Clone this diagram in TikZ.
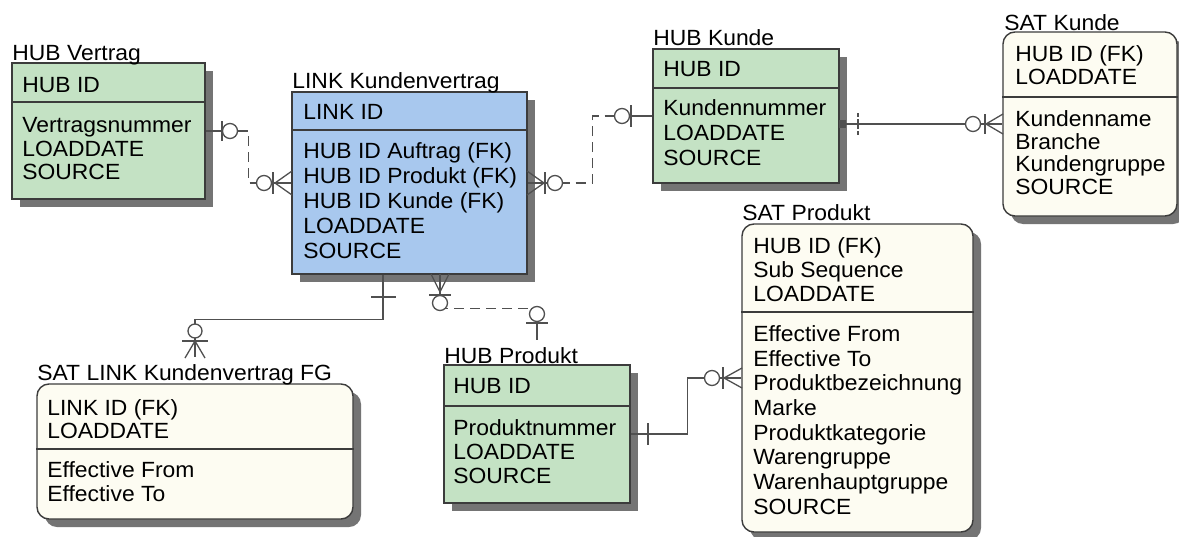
\documentclass[tikz,border=0pt]{standalone}
\usepackage{fontspec}
\setmainfont{Liberation Sans}[FakeStretch=1.04]
\usetikzlibrary{fit,shadows,calc}
\definecolor{hubgreen}{HTML}{C4E2C4}
\definecolor{linkblue}{HTML}{A8C8EE}
\definecolor{satcream}{HTML}{FDFCF2}
\definecolor{shgray}{HTML}{747474}
\definecolor{edgec}{HTML}{3C3C3C}
\definecolor{connc}{HTML}{505050}
\newcommand\efont[1]{\fontsize{11}{#1}\selectfont}
\tikzset{
  ent/.style={fit={#1}, inner sep=0pt, draw=edgec, line width=0.7pt,
    drop shadow={shadow xshift=4pt, shadow yshift=-4pt, opacity=1, fill=shgray}},
  hub/.style={ent={#1}, fill=hubgreen},
  lnk/.style={ent={#1}, fill=linkblue},
  sat/.style={ent={#1}, fill=satcream, rounded corners=6pt},
  divider/.style={draw=edgec, line width=0.7pt},
  ttl/.style={anchor=base west, inner sep=0pt, font=\efont{12}},
  txt/.style={anchor=north west, inner sep=0pt, align=left, font=\efont{#1}},
  conn/.style={draw=connc, line width=0.6pt},
  dsh/.style={dash pattern=on 5pt off 3pt},
  sym/.style={draw=connc, line width=0.65pt},
  ring/.style={draw=connc, line width=0.65pt, fill=white},
}
\begin{document}
\begin{tikzpicture}[x=0.5pt, y=-0.5pt]
\useasboundingbox[fill=white] (0,0) rectangle (1179,536);

% ---------- HUB Vertrag ----------
\node[hub={(12,63)(205,199)}] (hv) {};
\draw[divider] (hv.west |- 0,102) -- (hv.east |- 0,102);
\node[ttl] (hvt) at (12,60) {HUB Vertrag};
\node[txt=12] (hvk) at (22,77) {HUB ID};
\node[txt=11.75] (hva) at (22,117) {Vertragsnummer\\LOADDATE\\SOURCE};

% ---------- LINK Kundenvertrag ----------
\node[lnk={(292,92)(527,274)}] (link) {};
\draw[divider] (link.west |- 0,130) -- (link.east |- 0,130);
\node[ttl] (linkt) at (292,88) {LINK Kundenvertrag};
\node[txt=12] (linkk) at (303,104) {LINK ID};
\node[txt=12.5] (linka) at (303,142) {HUB ID Auftrag (FK)\\HUB ID Produkt (FK)\\HUB ID Kunde (FK)\\LOADDATE\\SOURCE};

% ---------- HUB Kunde ----------
\node[hub={(653,49)(839,183)}] (hk) {};
\draw[divider] (hk.west |- 0,88) -- (hk.east |- 0,88);
\node[ttl] (hkt) at (653,45) {HUB Kunde};
\node[txt=12] (hkk) at (663,61) {HUB ID};
\node[txt=12.5] (hka) at (663,99) {Kundennummer\\LOADDATE\\SOURCE};

% ---------- SAT Kunde ----------
\node[sat={(1003,32)(1177,216)}] (sk) {};
\draw[divider] (sk.west |- 0,97) -- (sk.east |- 0,97);
\node[ttl] (skt) at (1004,30) {SAT Kunde};
\node[txt=11.5] (skk) at (1015,45) {HUB ID (FK)\\LOADDATE};
\node[txt=11.4] (ska) at (1015,110) {Kundenname\\Branche\\Kundengruppe\\SOURCE};

% ---------- HUB Produkt ----------
\node[hub={(444,365)(630,503)}] (hp) {};
\draw[divider] (hp.west |- 0,406) -- (hp.east |- 0,406);
\node[ttl] (hpt) at (444,363) {HUB Produkt};
\node[txt=12] (hpk) at (453,378) {HUB ID};
\node[txt=12] (hpa) at (453,419) {Produktnummer\\LOADDATE\\SOURCE};

% ---------- SAT Produkt ----------
\node[sat={(742,224)(973,532)}] (sp) {};
\draw[divider] (sp.west |- 0,312) -- (sp.east |- 0,312);
\node[ttl] (spt) at (742,220) {SAT Produkt};
\node[txt=12] (spk) at (753,237) {HUB ID (FK)\\Sub Sequence\\LOADDATE};
\node[txt=12.35] (spa) at (753,325) {Effective From\\Effective To\\Produktbezeichnung\\Marke\\Produktkategorie\\Warengruppe\\Warenhauptgruppe\\SOURCE};

% ---------- SAT LINK Kundenvertrag FG ----------
\node[sat={(37,384)(353,519)}] (sl) {};
\draw[divider] (sl.west |- 0,449) -- (sl.east |- 0,449);
\node[ttl] (slt) at (37,380) {SAT LINK Kundenvertrag FG};
\node[txt=11.5] (slk) at (47,399) {LINK ID (FK)\\LOADDATE};
\node[txt=12] (sla) at (47,461) {Effective From\\Effective To};

% ---------- connectors ----------
% HUB Vertrag -- LINK
\draw[conn,dsh] (hv.east) -- ++(43,0) |- (link.west);
\draw[conn] (hv.east) -- ++(18,0);
\draw[sym] (222,121) -- (222,141);
\draw[ring] (230,131) circle (7.5);
\draw[conn] (257,183) -- (link.west);
\draw[ring] (264,183) circle (7.5);
\draw[sym] (273,172) -- (273,194);
\draw[sym] (275,183) -- (292,171) (275,183) -- (292,195);

% LINK -- HUB Kunde
\draw[conn,dsh] (link.east) -- ++(65,0) |- (hk.west);
\draw[conn] (link.east) -- ++(20,0);
\draw[sym] (544,183) -- (527,171) (544,183) -- (527,195);
\draw[sym] (545,172) -- (545,194);
\draw[ring] (555,183) circle (7.5);
\draw[conn] (615,116) -- (hk.west);
\draw[ring] (622,116) circle (7.5);
\draw[sym] (631,105) -- (631,127);

% HUB Kunde -- SAT Kunde
\draw[conn] ([yshift=-4pt]hk.east) -- (sk.west);
\fill[connc] (839,120) rectangle (846,128);
\draw[sym, dash pattern=on 2pt off 1pt] (858,113) -- (858,135);
\draw[ring] (973,124) circle (7.5);
\draw[sym] (985,114) -- (985,134);
\draw[sym] (986,124) -- (1003,114) (986,124) -- (1003,134);

% HUB Produkt -- SAT Produkt
\draw[conn] (hp.east) -- ++(57,0) |- (sp.west);
\draw[sym] (648,423) -- (648,445);
\draw[ring] (712,378) circle (7.5);
\draw[sym] (723,367) -- (723,389);
\draw[sym] (724,378) -- (742,368) (724,378) -- (742,388);

% LINK -- SAT LINK Kundenvertrag FG
\draw[conn] ($(link.south)+(-26.5,0)$) |- ($(sl.north)+(0,-64)$) -- ($(sl.north)+(0,-26)$);
\draw[sym] (371,297) -- (396,297);
\draw[ring] (195,331) circle (7);
\draw[sym] (182,341) -- (208,341);
\draw[sym] (195,341) -- (185,358) (195,341) -- (205,358);

% LINK -- HUB Produkt
\draw[conn,dsh] ($(link.south)+(30.5,0)$) |- ($(hp.north)+(0,-56)$) -- ($(hp.north)+(0,-25)$);
\draw[conn] (440,274) -- (440,296);
\draw[sym] (440,292) -- (431,274) (440,292) -- (449,274);
\draw[sym] (429,295) -- (451,295);
\draw[ring] (440,303) circle (7.5);
\draw[conn] (537,307) -- (537,340);
\draw[ring] (537,314) circle (7.5);
\draw[sym] (526,323) -- (548,323);
\end{tikzpicture}
\end{document}
